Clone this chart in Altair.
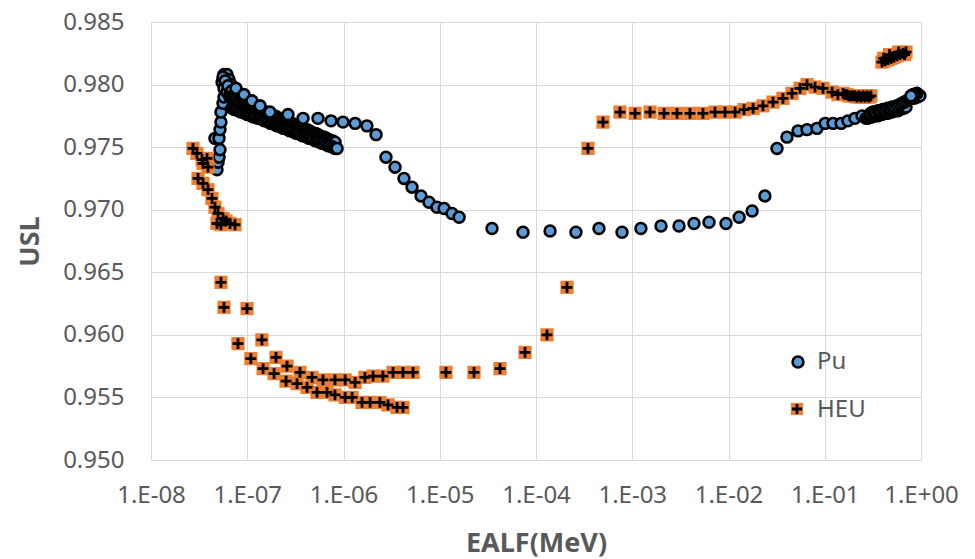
import json
import altair as alt
import pandas as pd

SERIES = ["Pu", "HEU"]
X_TICKS = [1e-8, 1e-7, 1e-6, 1e-5, 1e-4, 1e-3, 1e-2, 1e-1, 1e0]
X_LABELS = ["1.E-08", "1.E-07", "1.E-06", "1.E-05", "1.E-04",
            "1.E-03", "1.E-02", "1.E-01", "1.E+00"]
Y_TICKS = [0.950, 0.955, 0.960, 0.965, 0.970, 0.975, 0.980, 0.985]

# ---- Pu series (EALF in MeV, USL) ----
PU_COLUMN_E = [
    4.85e-8, 4.97e-8, 5.09e-8, 5.21e-8, 4.62e-8, 5.09e-8, 5.21e-8, 5.33e-8,
    5.33e-8, 5.60e-8, 5.73e-8, 5.87e-8, 6.01e-8, 6.16e-8,
    5.47e-8, 5.73e-8, 6.16e-8, 6.62e-8, 5.73e-8, 6.01e-8, 6.16e-8, 6.46e-8,
    6.78e-8, 7.11e-8, 5.60e-8, 5.90e-8, 6.30e-8, 6.90e-8,
]
PU_COLUMN_U = [
    0.9732, 0.9738, 0.9742, 0.9748, 0.9757, 0.9757, 0.9764, 0.9770,
    0.9778, 0.9785, 0.9790, 0.9796, 0.9800, 0.9805,
    0.9802, 0.9797, 0.9794, 0.9792, 0.9808, 0.9806, 0.9808, 0.9804,
    0.9800, 0.9797, 0.9806, 0.9803, 0.9799, 0.9795,
]
PU_BAND_A_E = [
    6.62e-8, 6.97e-8, 7.34e-8, 7.72e-8, 8.13e-8, 8.56e-8, 9.01e-8, 9.48e-8,
    9.98e-8, 1.05e-7, 1.11e-7, 1.16e-7, 1.23e-7, 1.29e-7, 1.36e-7, 1.43e-7,
    1.50e-7, 1.58e-7, 1.67e-7, 1.75e-7, 1.85e-7, 1.94e-7, 2.05e-7, 2.15e-7,
    2.27e-7, 2.39e-7, 2.51e-7, 2.64e-7, 2.78e-7, 2.93e-7, 3.08e-7, 3.25e-7,
    3.42e-7, 3.60e-7, 3.79e-7, 3.99e-7, 4.20e-7, 4.42e-7, 4.65e-7, 4.89e-7,
    5.15e-7, 5.42e-7, 5.71e-7, 6.01e-7, 6.32e-7, 6.66e-7, 7.01e-7, 7.38e-7,
    7.76e-7, 8.17e-7,
]
PU_BAND_A_U = [
    0.9790, 0.9789, 0.9789, 0.9788, 0.9787, 0.9786, 0.9786, 0.9785,
    0.9784, 0.9783, 0.9783, 0.9782, 0.9781, 0.9780, 0.9780, 0.9779,
    0.9778, 0.9778, 0.9777, 0.9776, 0.9775, 0.9775, 0.9774, 0.9773,
    0.9772, 0.9772, 0.9771, 0.9770, 0.9769, 0.9769, 0.9768, 0.9767,
    0.9766, 0.9766, 0.9765, 0.9764, 0.9764, 0.9763, 0.9762, 0.9761,
    0.9761, 0.9760, 0.9759, 0.9758, 0.9758, 0.9757, 0.9756, 0.9755,
    0.9755, 0.9754,
]
PU_BAND_B_E = [
    6.95e-8, 7.32e-8, 7.71e-8, 8.11e-8, 8.54e-8, 8.99e-8, 9.46e-8, 9.95e-8,
    1.05e-7, 1.10e-7, 1.16e-7, 1.22e-7, 1.29e-7, 1.36e-7, 1.43e-7, 1.50e-7,
    1.58e-7, 1.66e-7, 1.75e-7, 1.84e-7, 1.94e-7, 2.04e-7, 2.15e-7, 2.26e-7,
    2.38e-7, 2.51e-7, 2.64e-7, 2.78e-7, 2.92e-7, 3.08e-7, 3.24e-7, 3.41e-7,
    3.59e-7, 3.78e-7, 3.98e-7, 4.19e-7, 4.41e-7, 4.64e-7, 4.88e-7, 5.14e-7,
    5.41e-7, 5.69e-7, 5.99e-7, 6.31e-7, 6.64e-7, 6.99e-7, 7.36e-7, 7.74e-7,
    8.15e-7, 8.58e-7,
]
PU_BAND_B_U = [
    0.9781, 0.9780, 0.9780, 0.9779, 0.9778, 0.9778, 0.9777, 0.9776,
    0.9776, 0.9775, 0.9774, 0.9774, 0.9773, 0.9773, 0.9772, 0.9771,
    0.9771, 0.9770, 0.9769, 0.9769, 0.9768, 0.9767, 0.9767, 0.9766,
    0.9765, 0.9765, 0.9764, 0.9763, 0.9763, 0.9762, 0.9761, 0.9761,
    0.9760, 0.9759, 0.9759, 0.9758, 0.9757, 0.9757, 0.9756, 0.9755,
    0.9755, 0.9754, 0.9753, 0.9753, 0.9752, 0.9751, 0.9751, 0.9750,
    0.9749, 0.9749,
]
PU_MAIN_E = [
    7.64e-8, 9.25e-8, 1.12e-7, 1.36e-7, 1.72e-7, 2.65e-7, 3.80e-7, 5.43e-7,
    7.42e-7, 9.88e-7, 1.32e-6, 1.75e-6, 2.18e-6, 2.76e-6, 3.43e-6, 4.25e-6,
    5.15e-6, 6.39e-6, 7.73e-6, 9.36e-6, 1.11e-5, 1.34e-5, 1.59e-5, 3.49e-5,
    7.33e-5, 1.40e-4, 2.60e-4, 4.51e-4, 7.83e-4, 1.23e-3, 1.99e-3, 3.06e-3,
    4.38e-3, 6.27e-3, 9.42e-3, 1.29e-2, 1.76e-2, 2.39e-2, 3.19e-2, 4.05e-2,
    5.28e-2, 6.54e-2, 8.31e-2, 0.101, 0.122, 0.148, 0.174, 0.206, 0.244,
]
PU_MAIN_U = [
    0.9797, 0.9792, 0.9787, 0.9783, 0.9778, 0.9776, 0.9773, 0.9773,
    0.9771, 0.9770, 0.9769, 0.9767, 0.9760, 0.9742, 0.9734, 0.9725,
    0.9718, 0.9711, 0.9706, 0.9702, 0.9701, 0.9697, 0.9694, 0.9685,
    0.9682, 0.9683, 0.9682, 0.9685, 0.9682, 0.9685, 0.9687, 0.9687,
    0.9689, 0.9690, 0.9689, 0.9694, 0.9699, 0.9711, 0.9749, 0.9758,
    0.9763, 0.9764, 0.9765, 0.9769, 0.9769, 0.9769, 0.9771, 0.9773, 0.9775,
]
PU_FAST_E = [
    0.268, 0.281, 0.295, 0.310, 0.325, 0.341, 0.358, 0.375, 0.394, 0.413,
    0.433, 0.454, 0.477, 0.500, 0.525, 0.550, 0.577, 0.606, 0.635, 0.667, 0.699,
    0.300, 0.318, 0.337, 0.357, 0.378, 0.400, 0.424, 0.449, 0.476, 0.504,
    0.534, 0.566, 0.600, 0.635, 0.673, 0.713, 0.755,
    0.780, 0.850, 0.920, 0.976, 0.905, 0.872, 0.829, 0.787,
]
PU_FAST_U = [
    0.9773, 0.9773, 0.9774, 0.9774, 0.9775, 0.9775, 0.9775, 0.9776, 0.9776, 0.9777,
    0.9777, 0.9777, 0.9778, 0.9778, 0.9779, 0.9779, 0.9779, 0.9780, 0.9781, 0.9781, 0.9782,
    0.9777, 0.9778, 0.9778, 0.9779, 0.9779, 0.9780, 0.9780, 0.9781, 0.9781, 0.9782,
    0.9782, 0.9783, 0.9784, 0.9785, 0.9786, 0.9787, 0.9788,
    0.9789, 0.9789, 0.9790, 0.9791, 0.9793, 0.9792, 0.9792, 0.9791,
]

# ---- HEU series ----
HEU_EALF = [
    2.73e-8, 3.00e-8, 3.39e-8, 3.82e-8, 3.91e-8, 3.47e-8, 3.08e-8, 3.47e-8,
    3.91e-8, 4.30e-8, 4.62e-8, 4.97e-8, 5.60e-8, 6.62e-8, 4.85e-8, 7.46e-8,
    5.33e-8, 6.01e-8,
    5.33e-8, 5.73e-8, 9.94e-8, 8.01e-8, 1.42e-7, 1.09e-7, 1.99e-7, 1.46e-7,
    2.59e-7, 1.90e-7, 3.53e-7, 2.53e-7, 4.71e-7, 3.29e-7, 6.12e-7, 4.18e-7,
    8.16e-7, 5.31e-7, 1.04e-6, 6.74e-7, 1.32e-6, 8.16e-7, 1.67e-6, 1.04e-6,
    2.03e-6, 1.23e-6, 2.57e-6, 1.56e-6, 3.27e-6, 1.89e-6, 4.15e-6, 2.39e-6,
    5.28e-6, 2.90e-6, 3.60e-6, 4.15e-6,
    1.16e-5, 2.27e-5, 4.23e-5, 7.69e-5, 1.30e-4, 2.10e-4, 3.47e-4, 4.97e-4,
    7.46e-4, 1.07e-3, 1.53e-3, 2.14e-3, 2.92e-3, 3.98e-3, 5.43e-3, 7.24e-3,
    9.20e-3, 1.17e-2, 1.45e-2, 1.80e-2, 2.28e-2, 2.90e-2, 3.68e-2, 4.57e-2,
    5.53e-2, 6.54e-2, 7.92e-2, 9.59e-2, 0.119, 0.137,
    0.155, 0.162, 0.170, 0.178, 0.187, 0.196, 0.206, 0.216, 0.227, 0.238,
    0.250, 0.262, 0.275, 0.288, 0.302,
    0.393, 0.423, 0.454, 0.488, 0.524, 0.563, 0.605, 0.650, 0.699, 0.471,
    0.410, 0.505, 0.585, 0.675,
]
HEU_USL = [
    0.9749, 0.9745, 0.9740, 0.9741, 0.9734, 0.9737, 0.9725, 0.9721,
    0.9716, 0.9709, 0.9702, 0.9697, 0.9693, 0.9689, 0.9689, 0.9688,
    0.9688, 0.9691,
    0.9642, 0.9622, 0.9621, 0.9593, 0.9596, 0.9581, 0.9582, 0.9573,
    0.9575, 0.9569, 0.9570, 0.9563, 0.9566, 0.9561, 0.9564, 0.9558,
    0.9564, 0.9554, 0.9564, 0.9554, 0.9562, 0.9552, 0.9566, 0.9550,
    0.9567, 0.9550, 0.9567, 0.9546, 0.9570, 0.9546, 0.9570, 0.9546,
    0.9570, 0.9544, 0.9542, 0.9542,
    0.9570, 0.9570, 0.9573, 0.9586, 0.9600, 0.9638, 0.9749, 0.9770,
    0.9778, 0.9777, 0.9778, 0.9777, 0.9777, 0.9777, 0.9777, 0.9778,
    0.9778, 0.9778, 0.9780, 0.9781, 0.9783, 0.9786, 0.9789, 0.9793,
    0.9797, 0.9800, 0.9798, 0.9797, 0.9794, 0.9792,
    0.9793, 0.9792, 0.9792, 0.9791, 0.9791, 0.9791, 0.9791, 0.9790, 0.9791, 0.9790,
    0.9791, 0.9790, 0.9791, 0.9790, 0.9791,
    0.9818, 0.9819, 0.9820, 0.9821, 0.9822, 0.9823, 0.9824, 0.9825, 0.9826, 0.9824,
    0.9821, 0.9822, 0.9826, 0.9824,
]

PU_FILL = "#5B9BD5"
HEU_FILL = "#ED7D31"
GRID = "#D9D9D9"
TEXT = "#595959"
FONT = "Noto Sans"
CROSS = "M-1,0H1M0,-1V1"

PU_EALF = PU_COLUMN_E + PU_BAND_A_E + PU_BAND_B_E + PU_MAIN_E + PU_FAST_E
PU_USL = PU_COLUMN_U + PU_BAND_A_U + PU_BAND_B_U + PU_MAIN_U + PU_FAST_U

pu = pd.DataFrame({"EALF": PU_EALF, "USL": PU_USL, "series": SERIES[0]})
heu = pd.DataFrame({"EALF": HEU_EALF, "USL": HEU_USL, "series": SERIES[1]})

label_expr = json.dumps(X_LABELS) + "[round(log(datum.value)/LN10)+8]"

x_enc = alt.X(
    "EALF:Q",
    scale=alt.Scale(type="log", domain=[1e-8, 1], nice=False),
    axis=alt.Axis(
        values=X_TICKS, labelExpr=label_expr, title="EALF(MeV)",
        labelBaseline="middle", labelPadding=35, labelOverlap=False,
        labelFlush=False,
        titleX=385, titleY=83, titleBaseline="middle", titleAlign="center",
    ),
)
y_enc = alt.Y(
    "USL:Q",
    scale=alt.Scale(domain=[0.950, 0.985], nice=False, zero=False),
    axis=alt.Axis(
        values=Y_TICKS, format=".3f", title="USL", labelPadding=27,
        labelOverlap=False, labelFlush=False,
        titleAngle=270, titleX=-121, titleY=219,
        titleBaseline="middle", titleAlign="center",
    ),
)

PU_SIZE = 118
PU_STROKE = 2.6
SQ_SIZE = 175
CROSS_SIZE = 118

pu_layer = alt.Chart(pu).mark_point(
    shape="circle", filled=True, fill=PU_FILL, stroke="black",
    strokeWidth=PU_STROKE, size=PU_SIZE, opacity=1,
).encode(x=x_enc, y=y_enc)

heu_sq = alt.Chart(heu).mark_point(
    shape="square", filled=True, fill=HEU_FILL, strokeWidth=0,
    size=SQ_SIZE, opacity=1,
).encode(x=x_enc, y=y_enc)

heu_cross = alt.Chart(heu).mark_point(
    shape=CROSS, filled=False, stroke="black", strokeWidth=2.8,
    size=CROSS_SIZE, opacity=1,
).encode(x=x_enc, y=y_enc)

# legend
leg_pu_df = pd.DataFrame({"series": [SERIES[0]]})
leg_heu_df = pd.DataFrame({"series": [SERIES[1]]})

leg_pu_sym = alt.Chart(leg_pu_df).mark_point(
    shape="circle", filled=True, fill=PU_FILL, stroke="black",
    strokeWidth=PU_STROKE, size=PU_SIZE, opacity=1,
).encode(x=alt.value(647), y=alt.value(340))
leg_pu_txt = alt.Chart(leg_pu_df).mark_text(
    align="left", baseline="middle", font=FONT, fontSize=24, color=TEXT,
).encode(x=alt.value(666), y=alt.value(340), text="series:N")

leg_heu_sq = alt.Chart(leg_heu_df).mark_point(
    shape="square", filled=True, fill=HEU_FILL, strokeWidth=0,
    size=150, opacity=1,
).encode(x=alt.value(646), y=alt.value(387))
leg_heu_cross = alt.Chart(leg_heu_df).mark_point(
    shape=CROSS, filled=False, stroke="black", strokeWidth=2.8,
    size=105, opacity=1,
).encode(x=alt.value(646), y=alt.value(387))
leg_heu_txt = alt.Chart(leg_heu_df).mark_text(
    align="left", baseline="middle", font=FONT, fontSize=24, color=TEXT,
).encode(x=alt.value(666), y=alt.value(388), text="series:N")

chart = alt.layer(
    pu_layer, heu_sq, heu_cross,
    leg_pu_sym, leg_pu_txt, leg_heu_sq, leg_heu_cross, leg_heu_txt,
).properties(
    width=770, height=438,
    autosize=alt.AutoSizeParams(type="none"),
    padding={"left": 151, "top": 22, "right": 54, "bottom": 99},
    background="white",
).configure_view(
    stroke=None,
).configure_axis(
    grid=True, gridColor=GRID, gridWidth=1,
    domain=False, ticks=False, tickSize=0,
    labelFont=FONT, labelFontSize=24, labelColor=TEXT,
    titleFont=FONT, titleFontSize=27, titleFontWeight="bold", titleColor=TEXT,
)

chart.save("out.html", embed_options={"renderer": "svg", "actions": False})
